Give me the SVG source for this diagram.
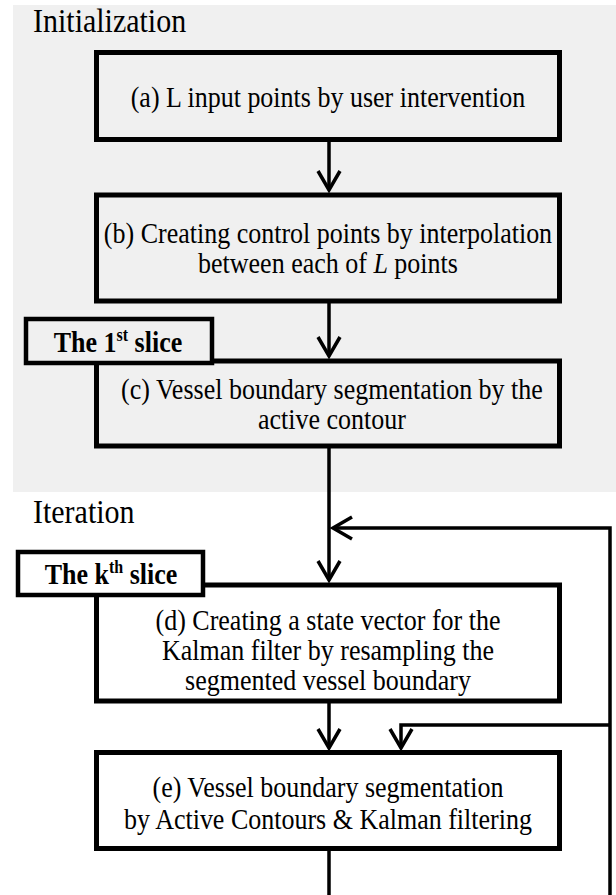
<svg xmlns="http://www.w3.org/2000/svg" width="616" height="895" viewBox="0 0 616 895">
<style>
.box{fill:none;stroke:#000;stroke-width:5}
.lbl{stroke:#000;stroke-width:4.5}
text{font-family:'Liberation Serif','Times New Roman',serif;fill:#000}
.t{font-size:26px;text-anchor:middle}
.sec{font-size:30px}
.b{font-weight:bold}
.con{fill:none;stroke:#000;stroke-width:3.5;marker-end:url(#ah)}
</style>
<defs>
<marker id="ah" markerUnits="userSpaceOnUse" markerWidth="30" markerHeight="30" viewBox="-25 -15 30 30" refX="0" refY="0" orient="auto" overflow="visible">
<path d="M-19,-11 L0,0 L-19,11" fill="none" stroke="#000" stroke-width="3.5"/>
</marker>
</defs>
<rect x="13" y="5" width="603" height="487" fill="#f0f0f0"/>
<text class="sec" x="33" y="0" transform="translate(0,32) scale(1,1.1)">Initialization</text>
<text class="sec" x="33" y="0" transform="translate(0,523) scale(1,1.1)">Iteration</text>
<g id="connectors">
<path class="con" d="M329,142 V190"/>
<path class="con" d="M329,303 V356"/>
<path class="con" d="M329,448 V580"/>
<path class="con" d="M329,703 V748"/>
<path class="con" d="M329,851 V897 H610 V528 H333"/>
<path class="con" d="M610,725 H401 V748"/>
</g>
<g id="a">
<rect class="box" x="96.5" y="52.5" width="463" height="87"/>
<text class="t" x="328" y="0" transform="translate(0,107) scale(1,1.12)">(a) L input points by user intervention</text>
</g>
<g id="b">
<rect class="box" x="96.5" y="195" width="463" height="106"/>
<text class="t" x="328" y="0" transform="translate(0,243) scale(1,1.12)">(b) Creating control points by interpolation</text>
<text class="t" x="328" y="0" transform="translate(0,273) scale(1,1.12)">between each of <tspan font-style="italic">L</tspan> points</text>
</g>
<g id="c">
<rect class="box" x="96.5" y="361" width="463" height="85"/>
<text class="t" x="332" y="0" transform="translate(0,399) scale(1,1.12)">(c) Vessel boundary segmentation by the</text>
<text class="t" x="332" y="0" transform="translate(0,429) scale(1,1.12)">active contour</text>
</g>
<g id="slice1">
<rect class="lbl" x="26" y="319" width="186" height="44" fill="#f0f0f0"/>
<text class="t b" x="118" y="0" transform="translate(0,352) scale(1,1.12)">The 1<tspan font-size="16" dy="-10">st</tspan><tspan dy="10"> slice</tspan></text>
</g>
<g id="d">
<rect class="box" x="96.5" y="585" width="463" height="116"/>
<text class="t" x="328" y="0" transform="translate(0,630) scale(1,1.12)">(d) Creating a state vector for the</text>
<text class="t" x="328" y="0" transform="translate(0,660) scale(1,1.12)">Kalman filter by resampling the</text>
<text class="t" x="328" y="0" transform="translate(0,690) scale(1,1.12)">segmented vessel boundary</text>
</g>
<g id="slicek">
<rect class="lbl" x="18" y="552" width="185" height="43" fill="#fff"/>
<text class="t b" x="111" y="0" transform="translate(0,584) scale(1,1.12)">The k<tspan font-size="16" dy="-10">th</tspan><tspan dy="10"> slice</tspan></text>
</g>
<g id="e">
<rect class="box" x="96.5" y="752.5" width="463" height="96"/>
<text class="t" x="328" y="0" transform="translate(0,797) scale(1,1.12)">(e) Vessel boundary segmentation</text>
<text class="t" x="328" y="0" transform="translate(0,829) scale(1,1.12)">by Active Contours &amp; Kalman filtering</text>
</g>
</svg>
